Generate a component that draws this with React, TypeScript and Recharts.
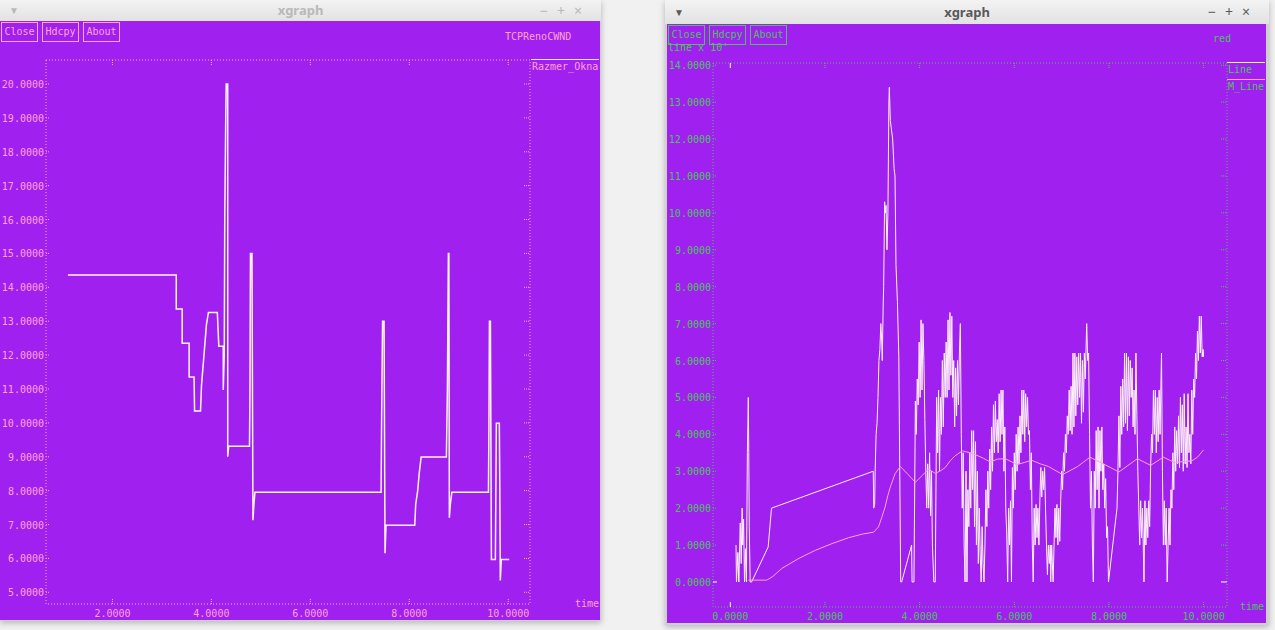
import React from 'react';
import { LineChart, Line, XAxis, YAxis, ReferenceArea } from 'recharts';

const MONO = '"DejaVu Sans Mono", "Liberation Mono", monospace';
const PURPLE = '#a020f0';
const PINK = '#ffa2d6';
const GREEN = '#4cc35a';

// left window: TCPRenoCWND / Razmer_Okna
const cwndXTicks = [2, 4, 6, 8, 10];
const cwndYTicks = [5, 6, 7, 8, 9, 10, 11, 12, 13, 14, 15, 16, 17, 18, 19, 20];
const cwndPoints: [number, number][] = [
  [1.1, 14.36], [3.29, 14.36], [3.29, 13.36], [3.41, 13.36], [3.41, 12.35], [3.55, 12.35],
  [3.55, 11.35], [3.65, 11.35], [3.66, 10.35], [3.78, 10.35], [3.8, 11.1], [3.85, 12.0],
  [3.9, 12.9], [3.94, 13.26], [4.12, 13.26], [4.15, 12.26], [4.24, 12.26], [4.24, 10.97],
  [4.26, 12.0], [4.27, 16.0], [4.29, 19.0], [4.3, 20.0], [4.33, 20.0], [4.33, 9.0],
  [4.35, 9.31], [4.77, 9.31], [4.78, 11.0], [4.79, 15.0], [4.82, 15.0], [4.84, 7.13],
  [4.86, 7.6], [4.88, 7.95], [7.43, 7.95], [7.44, 10.0], [7.46, 13.0], [7.49, 13.0],
  [7.51, 6.15], [7.53, 6.98], [8.11, 6.98], [8.13, 7.6], [8.17, 8.0], [8.2, 8.5],
  [8.24, 8.99], [8.75, 8.99], [8.77, 11.0], [8.79, 15.0], [8.8, 15.0], [8.81, 7.2],
  [8.83, 7.6], [8.86, 7.95], [9.6, 7.95], [9.61, 10.0], [9.62, 13.0], [9.64, 13.0],
  [9.66, 5.97], [9.74, 5.97], [9.76, 9.99], [9.82, 9.99], [9.83, 8.0], [9.84, 5.35],
  [9.86, 5.97], [10.02, 5.97],
];

// right window: red queue, Line and M_Line
const queueXTicks = [0, 2, 4, 6, 8, 10];
const queueYTicks = [0, 1, 2, 3, 4, 5, 6, 7, 8, 9, 10, 11, 12, 13, 14];
const linePoints: [number, number][] = [
  [0.12, 1.0], [0.13, 0], [0.16, 0.8], [0.18, 0], [0.21, 1.6], [0.23, 0.5], [0.25, 2.0], [0.26, 1.0],
  [0.28, 1.7], [0.3, 0], [0.32, 0.9], [0.34, 0], [0.36, 3.5], [0.38, 5.0], [0.39, 3.5], [0.4, 1.5],
  [0.42, 0], [0.45, 0], [0.8, 0.95], [0.87, 2.0], [3.02, 3.0], [3.03, 2.0], [3.05, 2.1], [3.06, 3.0],
  [3.08, 4.0], [3.1, 4.3], [3.12, 5.0], [3.14, 6.0], [3.16, 6.3], [3.18, 7.0], [3.2, 6.5], [3.21, 6.0],
  [3.23, 7.5], [3.24, 8.0], [3.26, 10.3], [3.28, 10.0], [3.29, 10.2], [3.31, 9.0], [3.33, 10.0],
  [3.35, 13.0], [3.36, 13.4], [3.38, 12.5], [3.4, 12.3], [3.43, 12.0], [3.46, 11.2], [3.48, 11.0],
  [3.5, 8.6], [3.53, 7.6], [3.56, 6.1], [3.58, 3.0], [3.6, 0], [3.62, 0], [3.83, 1.0], [3.84, 0],
  [3.88, 0], [3.91, 4.9], [3.93, 4.0], [3.95, 5.5], [3.97, 4.8], [3.99, 6.5], [4.01, 5.0], [4.03, 7.1],
  [4.05, 5.2], [4.07, 7.0], [4.09, 6.0], [4.11, 4.4], [4.13, 3.0], [4.15, 2.0], [4.17, 3.2], [4.19, 2.0],
  [4.21, 3.5], [4.23, 1.8], [4.25, 3.0], [4.27, 1.0], [4.3, 0], [4.33, 0], [4.36, 5.0], [4.38, 3.5],
  [4.4, 5.2], [4.42, 3.0], [4.44, 5.0], [4.46, 4.0], [4.48, 6.0], [4.5, 4.2], [4.52, 6.2], [4.54, 5.0],
  [4.56, 6.5], [4.58, 5.0], [4.6, 7.1], [4.62, 5.2], [4.64, 7.3], [4.66, 5.6], [4.68, 7.2], [4.7, 5.0],
  [4.72, 6.0], [4.74, 4.2], [4.76, 5.8], [4.78, 4.5], [4.8, 6.0], [4.82, 4.8], [4.84, 6.2], [4.86, 7.0],
  [4.88, 4.0], [4.9, 2.0], [4.92, 3.5], [4.94, 1.0], [4.96, 0], [4.98, 3.0], [5.0, 0], [5.02, 2.5],
  [5.04, 1.5], [5.06, 3.5], [5.08, 2.0], [5.1, 4.1], [5.12, 2.5], [5.14, 4.1], [5.16, 1.5], [5.18, 3.8],
  [5.2, 1.0], [5.22, 3.0], [5.24, 0.5], [5.26, 2.0], [5.28, 0.7], [5.3, 0], [5.32, 1.5], [5.34, 0.5],
  [5.36, 0], [5.38, 1.0], [5.4, 2.5], [5.42, 1.5], [5.44, 3.0], [5.46, 2.0], [5.48, 3.6], [5.5, 2.5],
  [5.52, 4.2], [5.54, 3.0], [5.56, 4.8], [5.58, 3.5], [5.6, 4.9], [5.62, 3.8], [5.64, 4.4], [5.66, 3.5],
  [5.68, 5.1], [5.7, 3.8], [5.72, 5.2], [5.74, 4.0], [5.76, 5.2], [5.78, 3.0], [5.8, 4.2], [5.82, 2.0],
  [5.84, 1.3], [5.86, 0], [5.88, 2.0], [5.9, 1.0], [5.92, 2.2], [5.94, 0], [5.96, 3.1], [5.98, 2.0],
  [6.0, 3.5], [6.02, 2.5], [6.04, 4.0], [6.06, 3.0], [6.08, 4.2], [6.1, 3.2], [6.12, 4.5], [6.14, 3.5],
  [6.16, 5.2], [6.18, 4.0], [6.2, 5.2], [6.22, 3.8], [6.24, 5.1], [6.26, 4.2], [6.28, 5.0], [6.3, 4.0],
  [6.32, 4.1], [6.34, 2.5], [6.36, 3.5], [6.38, 1.0], [6.4, 0], [6.42, 2.0], [6.44, 1.0], [6.46, 2.1],
  [6.48, 1.2], [6.5, 2.0], [6.52, 1.0], [6.54, 2.2], [6.56, 3.1], [6.58, 2.3], [6.6, 3.0], [6.62, 2.5],
  [6.64, 3.1], [6.66, 2.0], [6.68, 1.0], [6.7, 0.2], [6.72, 1.0], [6.74, 0.5], [6.76, 1.0], [6.77, 0],
  [6.79, 1.0], [6.81, 0.3], [6.82, 0], [6.84, 1.0], [6.86, 2.0], [6.88, 1.2], [6.9, 2.1], [6.92, 1.0],
  [6.94, 2.0], [6.96, 1.1], [6.98, 2.2], [7.0, 3.0], [7.02, 2.5], [7.04, 3.5], [7.06, 3.0], [7.08, 4.0],
  [7.1, 3.5], [7.12, 4.5], [7.14, 4.0], [7.16, 5.2], [7.18, 4.1], [7.2, 5.3], [7.22, 4.0], [7.24, 6.2],
  [7.26, 4.2], [7.28, 6.2], [7.3, 4.5], [7.32, 6.1], [7.34, 4.8], [7.36, 6.2], [7.38, 5.0], [7.4, 6.2],
  [7.42, 4.3], [7.44, 6.0], [7.46, 4.6], [7.48, 6.2], [7.5, 5.5], [7.53, 7.0], [7.55, 6.0], [7.57, 6.2],
  [7.59, 4.0], [7.61, 2.0], [7.63, 3.0], [7.65, 1.0], [7.67, 0], [7.69, 3.0], [7.71, 2.0], [7.73, 4.1],
  [7.75, 2.5], [7.77, 4.2], [7.79, 2.0], [7.81, 4.1], [7.83, 3.0], [7.85, 4.2], [7.87, 2.5], [7.89, 3.2],
  [7.91, 2.0], [7.93, 2.8], [7.95, 1.2], [7.97, 1.5], [7.99, 0], [8.17, 2.0], [8.19, 3.0], [8.21, 4.5],
  [8.23, 3.1], [8.25, 5.3], [8.27, 4.0], [8.29, 5.5], [8.31, 4.2], [8.33, 6.2], [8.35, 4.3], [8.37, 6.2],
  [8.39, 4.1], [8.41, 6.1], [8.43, 4.5], [8.45, 6.0], [8.47, 5.0], [8.49, 5.8], [8.51, 4.2], [8.53, 5.2],
  [8.55, 4.0], [8.57, 6.2], [8.59, 4.5], [8.61, 3.0], [8.63, 2.0], [8.65, 1.0], [8.67, 2.2], [8.69, 1.2],
  [8.71, 2.0], [8.74, 0], [8.76, 2.2], [8.78, 1.0], [8.8, 2.0], [8.82, 1.2], [8.84, 2.2], [8.86, 1.5],
  [8.88, 3.1], [8.9, 4.0], [8.92, 3.5], [8.94, 5.2], [8.96, 4.0], [8.98, 5.2], [9.0, 3.5], [9.02, 5.0],
  [9.04, 3.8], [9.06, 5.2], [9.08, 4.0], [9.11, 6.2], [9.13, 3.0], [9.15, 1.0], [9.17, 2.2], [9.19, 1.0],
  [9.21, 2.0], [9.23, 0], [9.25, 1.0], [9.27, 2.0], [9.29, 1.0], [9.31, 2.5], [9.33, 2.0], [9.35, 3.5],
  [9.37, 2.5], [9.39, 4.2], [9.41, 3.0], [9.43, 4.1], [9.45, 3.2], [9.47, 4.5], [9.49, 3.1], [9.51, 5.0],
  [9.53, 3.5], [9.55, 4.8], [9.57, 3.0], [9.59, 5.1], [9.61, 3.2], [9.63, 4.2], [9.65, 3.1], [9.67, 5.1],
  [9.69, 3.5], [9.71, 4.0], [9.73, 3.2], [9.75, 5.2], [9.77, 4.0], [9.79, 5.5], [9.81, 5.0], [9.83, 6.2],
  [9.85, 5.5], [9.87, 6.8], [9.89, 6.0], [9.91, 7.2], [9.93, 6.2], [9.95, 7.2], [9.97, 6.1], [9.99, 6.3],
  [10.0, 6.1],
];
const mLinePoints: [number, number][] = [
  [0.38, 0.05], [0.77, 0.05], [0.9, 0.15], [1.09, 0.37], [1.45, 0.64], [1.8, 0.86], [2.15, 1.04],
  [2.5, 1.2], [2.8, 1.3], [3.03, 1.35], [3.13, 1.49], [3.2, 1.75], [3.27, 2.03], [3.33, 2.35],
  [3.38, 2.57], [3.48, 2.93], [3.59, 3.13], [3.75, 2.92], [3.91, 2.7], [4.05, 2.88], [4.19, 3.06],
  [4.33, 2.94], [4.45, 3.02], [4.54, 3.1], [4.65, 3.29], [4.75, 3.42], [4.9, 3.55], [5.07, 3.5],
  [5.21, 3.43], [5.35, 3.35], [5.49, 3.25], [5.65, 3.33], [5.81, 3.34], [6.06, 3.18], [6.22, 3.24],
  [6.36, 3.3], [6.55, 3.2], [6.72, 3.13], [7.02, 2.91], [7.33, 3.12], [7.6, 3.38], [7.82, 3.24],
  [8.21, 2.98], [8.6, 3.34], [8.88, 3.16], [9.15, 3.38], [9.38, 3.24], [9.75, 3.28], [9.87, 3.38],
  [10.0, 3.58],
];

const toRows = (pts: [number, number][]) => pts.map(([t, v]) => ({ t, v }));

const cwndSeries = [{ name: 'Razmer_Okna', color: '#fff4fb', data: toRows(cwndPoints) }];
const queueSeries = [
  { name: 'Line', color: '#fff2fa', data: toRows(linePoints) },
  { name: 'M_Line', color: '#ffa0d4', data: toRows(mLinePoints) },
];

const fmt = (v: number) => v.toFixed(4);

function XTick(props: any) {
  const { x, y, payload, color, plotHeight } = props;
  const zero = payload.value === 0;
  const mark = zero ? '#ffffff' : color;
  const dash = zero ? undefined : '1 1';
  return (
    <g>
      <line x1={x} x2={x} y1={y} y2={y - 5} stroke={mark} strokeDasharray={dash} />
      <line x1={x} x2={x} y1={y - plotHeight} y2={y - plotHeight + 5} stroke={mark} strokeDasharray={dash} />
      <text x={x} y={y + 13} textAnchor="middle" fill={color} fontFamily={MONO} fontSize={10}>
        {fmt(payload.value)}
      </text>
    </g>
  );
}

function YTick(props: any) {
  const { x, y, payload, color, plotWidth } = props;
  const zero = payload.value === 0;
  const mark = zero ? '#ffffff' : color;
  const dash = zero ? undefined : '1 1';
  return (
    <g>
      <line x1={x} x2={x + 4} y1={y} y2={y} stroke={mark} strokeDasharray={dash} />
      <line x1={x + plotWidth - 6} x2={x + plotWidth} y1={y} y2={y} stroke={mark} strokeDasharray={dash} />
      <text x={x - 2} y={y + 4} textAnchor="end" fill={color} fontFamily={MONO} fontSize={10}>
        {fmt(payload.value)}
      </text>
    </g>
  );
}

function TitleBar({ width, height, active }: { width: number; height: number; active: boolean }) {
  const c = active ? '#5a5a5a' : '#b9b9b9';
  return (
    <div
      style={{
        position: 'absolute', left: 0, top: 0, width, height,
        background: 'linear-gradient(#f3f3f3, #e2e2e2)', fontFamily: '"Noto Sans", sans-serif',
        color: c, fontSize: 12, lineHeight: `${height}px`,
      }}
    >
      <span style={{ position: 'absolute', left: 9, fontSize: 10 }}>▼</span>
      <span style={{ position: 'absolute', left: 0, right: 0, textAlign: 'center', fontWeight: 700, fontSize: 13 }}>xgraph</span>
      <span style={{ position: 'absolute', right: 10, fontSize: 14, letterSpacing: 9 }}>−+×</span>
    </div>
  );
}

function Buttons({ color, top }: { color: string; top: number }) {
  const labels = ['Close', 'Hdcpy', 'About'];
  return (
    <div style={{ position: 'absolute', left: 1, top, display: 'flex', gap: 4 }}>
      {labels.map((l) => (
        <div
          key={l}
          style={{
            border: `1px solid ${color}`, color, fontFamily: MONO, fontSize: 10,
            width: 35, height: 18, lineHeight: '18px', textAlign: 'center',
          }}
        >
          {l}
        </div>
      ))}
    </div>
  );
}

function Label({ text, left, cy, color }: { text: string; left: number; cy: number; color: string }) {
  return (
    <div
      style={{
        position: 'absolute', left, top: cy - 7, height: 14, lineHeight: '14px',
        color, fontFamily: MONO, fontSize: 10, whiteSpace: 'nowrap',
      }}
    >
      {text}
    </div>
  );
}

function LegendBlock({ items, left, top, step, width, color }: any) {
  return (
    <>
      {items.map((s: any, i: number) => (
        <div key={s.name} style={{ position: 'absolute', left, top: top + i * step, width }}>
          <div style={{ height: 1, background: s.color }} />
          <div style={{ color, fontFamily: MONO, fontSize: 10, lineHeight: '13px', paddingLeft: 1 }}>{s.name}</div>
        </div>
      ))}
    </>
  );
}

export default function App() {
  return (
    <div style={{ position: 'fixed', left: 0, top: 0, width: 1275, height: 630, background: '#f1f1f1', overflow: 'hidden' }}>
      {/* left window */}
      <div style={{ position: 'absolute', left: 0, top: 0, width: 601, height: 621, background: '#cfcfcf', boxShadow: '0 2px 6px rgba(0,0,0,0.25)' }}>
        <TitleBar width={601} height={21} active={false} />
        <div style={{ position: 'absolute', left: 0, top: 21, width: 600, height: 599, background: PURPLE }}>
          <LineChart width={600} height={599} margin={{ top: 39, right: 70, bottom: 0, left: 0 }}>
            <XAxis
              type="number" dataKey="t" domain={[0.657, 10.44]} allowDataOverflow ticks={cwndXTicks}
              interval={0} axisLine={false} tickLine={false} tickSize={0} tickMargin={0} height={16}
              tick={(p: any) => <XTick {...p} color={PINK} plotHeight={544} />}
            />
            <YAxis
              type="number" domain={[4.655, 20.708]} allowDataOverflow ticks={cwndYTicks}
              interval={0} axisLine={false} tickLine={false} tickSize={0} tickMargin={0} width={46}
              tick={(p: any) => <YTick {...p} color={PINK} plotWidth={484} />}
            />
            <ReferenceArea x1={0.657} x2={10.44} y1={4.655} y2={20.708} fill="none" stroke={PINK} strokeDasharray="1 2" />
            {cwndSeries.map((s) => (
              <Line
                key={s.name} data={s.data} dataKey="v" name={s.name} type="linear" stroke={s.color}
                strokeWidth={1.5} dot={false} isAnimationActive={false}
              />
            ))}
          </LineChart>
          <Buttons color={PINK} top={1} />
          <Label text="TCPRenoCWND" left={505} cy={16} color={PINK} />
          <LegendBlock items={cwndSeries} left={531} top={38} step={17} width={68} color={PINK} />
          <Label text="time" left={575} cy={583} color={PINK} />
        </div>
      </div>

      {/* right window */}
      <div style={{ position: 'absolute', left: 665, top: 0, width: 604, height: 625, background: '#cfcfcf', boxShadow: '0 2px 6px rgba(0,0,0,0.25)' }}>
        <TitleBar width={604} height={24} active />
        <div style={{ position: 'absolute', left: 2, top: 24, width: 599, height: 599, background: PURPLE }}>
          <LineChart width={599} height={599} margin={{ top: 39, right: 39, bottom: 0, left: 0 }}>
            <XAxis
              type="number" dataKey="t" domain={[-0.366, 10.494]} allowDataOverflow ticks={queueXTicks}
              interval={0} axisLine={false} tickLine={false} tickSize={0} tickMargin={0} height={16}
              tick={(p: any) => <XTick {...p} color={GREEN} plotHeight={544} />}
            />
            <YAxis
              type="number" domain={[-0.678, 14.06]} allowDataOverflow ticks={queueYTicks}
              interval={0} axisLine={false} tickLine={false} tickSize={0} tickMargin={0} width={46}
              tick={(p: any) => <YTick {...p} color={GREEN} plotWidth={514} />}
            />
            <ReferenceArea x1={-0.366} x2={10.494} y1={-0.678} y2={14.06} fill="none" stroke={GREEN} strokeDasharray="1 2" />
            {queueSeries.map((s) => (
              <Line
                key={s.name} data={s.data} dataKey="v" name={s.name} type="linear" stroke={s.color}
                strokeWidth={1} dot={false} isAnimationActive={false}
              />
            ))}
          </LineChart>
          <Buttons color={GREEN} top={1} />
          <Label text="line x 10'" left={1} cy={24} color={GREEN} />
          <Label text="red" left={546} cy={15} color={GREEN} />
          <LegendBlock items={queueSeries} left={560} top={38} step={17} width={38} color={GREEN} />
          <Label text="time" left={573} cy={583} color={GREEN} />
        </div>
      </div>
    </div>
  );
}
